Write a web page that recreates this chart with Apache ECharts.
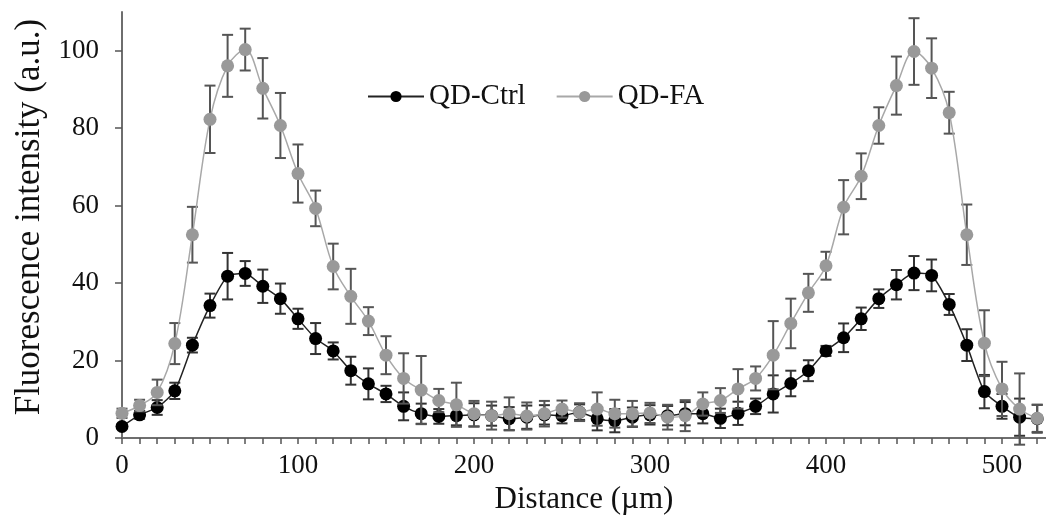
<!DOCTYPE html>
<html>
<head>
<meta charset="utf-8">
<script src="https://cdn.jsdelivr.net/npm/echarts@6/dist/echarts.min.js"></script>
<style>
  html, body { margin: 0; padding: 0; background: #fff; }
  #chart { width: 1046px; height: 520px; }
</style>
</head>
<body>
<div id="chart"></div>
<script>
const FONT = '"Liberation Serif", "DejaVu Serif", serif'

const distance = [0, 10, 20, 30, 40, 50, 60, 70, 80, 90, 100, 110, 120, 130, 140, 150, 160, 170, 180, 190,
  200, 210, 220, 230, 240, 250, 260, 270, 280, 290, 300, 310, 320, 330, 340, 350, 360, 370, 380, 390,
  400, 410, 420, 430, 440, 450, 460, 470, 480, 490, 500, 510, 520]

const ctrlMean = [3.0, 6.0, 7.9, 12.2, 24.0, 34.2, 41.8, 42.5, 39.2, 36.0, 30.8, 25.7, 22.5, 17.4, 14.0, 11.4, 8.2, 6.3, 5.6, 5.8,
  6.0, 5.8, 5.0, 5.4, 6.0, 5.8, 6.7, 5.0, 4.5, 5.4, 6.0, 5.8, 6.3, 6.3, 5.1, 6.4, 8.2, 11.4, 14.1, 17.4,
  22.5, 25.9, 30.8, 36.0, 39.6, 42.6, 42.0, 34.5, 24.0, 12.0, 8.2, 5.4, 5.0]
const ctrlErr = [0.5, 1.0, 1.9, 2.1, 1.9, 3.1, 6.0, 3.2, 4.3, 3.9, 2.6, 4.0, 2.2, 3.6, 4.0, 2.1, 3.6, 2.6, 1.9, 2.5,
  3.0, 2.6, 3.0, 3.0, 2.5, 2.0, 2.0, 3.0, 3.0, 2.5, 2.5, 2.5, 3.0, 2.5, 2.5, 3.0, 2.0, 4.8, 3.3, 2.7,
  1.3, 3.7, 2.9, 2.4, 3.8, 4.4, 4.1, 2.7, 4.1, 4.3, 3.2, 4.8, 3.6]

const faMean = [6.4, 8.4, 11.8, 24.4, 52.5, 82.3, 96.1, 100.3, 90.3, 80.7, 68.3, 59.3, 44.3, 36.6, 30.2, 21.4, 15.4, 12.4, 9.7, 8.6,
  6.3, 5.8, 6.3, 5.7, 6.3, 7.5, 6.7, 7.5, 6.3, 6.3, 6.5, 5.4, 5.8, 8.8, 9.7, 12.7, 15.4, 21.4, 29.6, 37.5,
  44.5, 59.6, 67.6, 80.7, 91.0, 99.8, 95.5, 84.0, 52.5, 24.5, 12.7, 7.5, 5.1]
const faErr = [1.2, 1.5, 3.3, 5.3, 7.2, 8.7, 8.0, 5.4, 7.8, 8.4, 7.5, 4.6, 5.9, 7.1, 3.6, 4.9, 6.5, 8.8, 3.0, 5.7,
  3.3, 3.6, 4.2, 3.5, 3.3, 2.2, 2.3, 4.3, 3.6, 3.3, 2.6, 3.2, 4.0, 3.0, 3.2, 5.1, 3.1, 8.8, 6.4, 4.9,
  3.6, 7.0, 5.9, 4.7, 7.5, 8.6, 7.7, 5.4, 7.8, 8.5, 7.0, 9.2, 3.5]

const xLabelValues = [0, 100, 200, 300, 400, 500]
const yLabelValues = [0, 20, 40, 60, 80, 100]

const chart = echarts.init(document.getElementById('chart'))

const pts = (means) => distance.map((d, i) => [d, means[i]])
const bars = (means, errs) => distance.map((d, i) => [d, means[i] - errs[i], means[i] + errs[i]])

// 误差线: 竖线 + 上下短横
const errRender = (color) => (params, api) => {
  const x = api.value(0)
  const top = api.coord([x, api.value(2)])
  const bot = api.coord([x, api.value(1)])
  const w = 5.5
  const st = { stroke: color, lineWidth: 2 }
  return {
    type: 'group',
    children: [
      { type: 'line', shape: { x1: top[0], y1: top[1], x2: bot[0], y2: bot[1] }, style: st },
      { type: 'line', shape: { x1: top[0] - w, y1: top[1], x2: top[0] + w, y2: top[1] }, style: st },
      { type: 'line', shape: { x1: bot[0] - w, y1: bot[1], x2: bot[0] + w, y2: bot[1] }, style: st },
    ],
  }
}

const axisLine = { show: true, lineStyle: { color: '#6e6e6e', width: 2 } }

chart.setOption({
  animation: false,
  textStyle: { fontFamily: FONT },
  grid: { left: 122, right: 0, top: 12, bottom: 81 },
  legend: {
    left: 362,
    top: 77,
    itemWidth: 56,
    itemHeight: 14,
    itemGap: 30,
    textStyle: { fontFamily: FONT, fontSize: 29, color: '#111' },
    data: ['QD-Ctrl', 'QD-FA'],
  },
  xAxis: {
    type: 'value',
    min: 0,
    max: 525,
    name: 'Distance (µm)',
    nameLocation: 'middle',
    nameGap: 39,
    nameTextStyle: { fontFamily: FONT, fontSize: 31, color: '#111' },
    axisLine: axisLine,
    axisTick: { show: true, length: 6, lineStyle: { color: '#555', width: 1.5 }, customValues: distance },
    axisLabel: { fontFamily: FONT, fontSize: 27, color: '#111', margin: 14, customValues: xLabelValues },
    splitLine: { show: false },
  },
  yAxis: {
    type: 'value',
    min: 0,
    max: 110,
    name: 'Fluorescence intensity (a.u.)',
    nameLocation: 'middle',
    nameGap: 73,
    nameTextStyle: { fontFamily: FONT, fontSize: 35, color: '#111', padding: [0, 0, 0, 16] },
    axisLine: axisLine,
    axisTick: { show: true, length: 7, lineStyle: { color: '#555', width: 1.5 }, customValues: yLabelValues },
    axisLabel: { fontFamily: FONT, fontSize: 27, color: '#111', margin: 23, customValues: yLabelValues },
    splitLine: { show: false },
  },
  series: [
    {
      name: 'QD-Ctrl err',
      type: 'custom',
      renderItem: errRender('#333'),
      encode: { x: 0, y: [1, 2] },
      data: bars(ctrlMean, ctrlErr),
      z: 1,
    },
    {
      name: 'QD-Ctrl',
      type: 'line',
      data: pts(ctrlMean),
      smooth: 0.2,
      symbol: 'circle',
      symbolSize: 13,
      itemStyle: { color: '#000' },
      lineStyle: { color: '#222', width: 1.5 },
      z: 2,
    },
    {
      name: 'QD-FA err',
      type: 'custom',
      renderItem: errRender('#555'),
      encode: { x: 0, y: [1, 2] },
      data: bars(faMean, faErr),
      z: 3,
    },
    {
      name: 'QD-FA',
      type: 'line',
      data: pts(faMean),
      smooth: 0.35,
      symbol: 'circle',
      symbolSize: 13,
      itemStyle: { color: '#999' },
      lineStyle: { color: '#a8a8a8', width: 1.5 },
      z: 4,
    },
  ],
})
</script>
</body>
</html>
